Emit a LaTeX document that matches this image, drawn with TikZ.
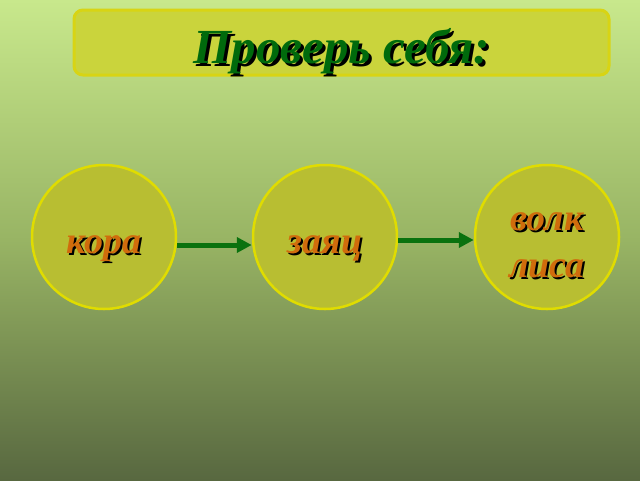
\documentclass[tikz,border=0pt]{standalone}
\usepackage{fontspec}
\setmainfont{Liberation Serif}
\usetikzlibrary{arrows.meta}
\definecolor{bgtop}{HTML}{C8E88C}
\definecolor{bgmid}{HTML}{98B464}
\definecolor{bgbot}{HTML}{586840}
\definecolor{boxfill}{HTML}{CAD43C}
\definecolor{boxline}{HTML}{D8D414}
\definecolor{ballfill}{HTML}{B8BE32}
\definecolor{ballline}{HTML}{E0DC00}
\definecolor{wordcol}{HTML}{D06C0C}
\definecolor{titlecol}{HTML}{006A0C}
\definecolor{arrowcol}{HTML}{0A720E}
\newcommand\shadowed[3][2pt]{\rlap{\kern#1\raisebox{-#1}{\color{black}#3}}{\color{#2}#3}}
\begin{document}
\begin{tikzpicture}[x=1pt, y=-1pt,
    ball/.style={circle, draw=ballline, fill=ballfill, line width=2.5pt,
        minimum size=144pt, inner sep=0pt, align=center,
        text height=32pt, text depth=0pt,
        font=\fontsize{38}{47}\selectfont\bfseries\itshape},
    link/.style={arrowcol, line width=5pt, -{Triangle[length=15pt,width=15pt]}}]
    \useasboundingbox (0,0) rectangle (640,480);
    \shade[top color=bgtop, bottom color=bgbot, middle color=bgmid] (0,0) rectangle (640,480);
    \draw[boxline, fill=boxfill, line width=3pt, rounded corners=9pt] (74,10) rectangle (609,75);
    \node[anchor=base, font=\fontsize{49}{55}\selectfont\bfseries\itshape] (title) at (342,63)
        {\shadowed[3pt]{titlecol}{Проверь себя:}};
    %
    \node[ball] (bark) at (104,237) {\shadowed{wordcol}{кора}};
    \node[ball] (hare) at (325,237) {\shadowed{wordcol}{заяц}};
    \node[ball, text height=80pt] (prey) at (547,237) {\shadowed{wordcol}{волк}\\ \shadowed{wordcol}{лиса}};
    %
    \draw[link] ([yshift=-8pt]bark.east) -- ([yshift=-8pt]hare.west);
    \draw[link] ([yshift=-3pt]hare.east) -- ([yshift=-3pt]prey.west);
\end{tikzpicture}
\end{document}
